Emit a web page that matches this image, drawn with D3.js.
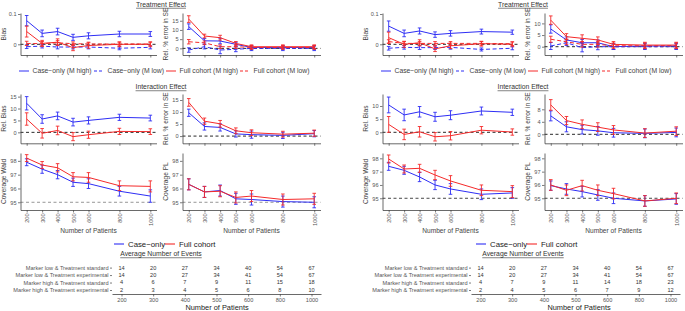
<!DOCTYPE html>
<html>
<head>
<meta charset="utf-8">
<script src="https://cdn.jsdelivr.net/npm/d3@7"></script>
<style>
body { margin: 0; background: #fff; }
svg { display: block; font-family: "Liberation Sans", Arial, sans-serif; }
</style>
</head>
<body>
<div id="chart"></div>
<script>
var patients = [200, 300, 400, 500, 600, 800, 1000];
var rowLabels = ["Marker low & Treatment standard", "Marker low & Treatment experimental",
                 "Marker high & Treatment standard", "Marker high & Treatment experimental"];

// ---- left figure ----
var f1BiasCaseHigh = [0.078, 0.036, 0.042, 0.023, 0.028, 0.034, 0.034];
var f1BiasCaseHighErr = [0.017, 0.011, 0.011, 0.01, 0.01, 0.009, 0.008];
var f1BiasCaseLow = [-0.008, -0.006, -0.009, -0.009, -0.009, -0.013, -0.010];
var f1BiasCaseLowErr = [0.006, 0.006, 0.006, 0.006, 0.006, 0.005, 0.005];
var f1BiasFullHigh = [0.042, 0.003, 0.007, -0.011, -0.004, 0.000, 0.000];
var f1BiasFullHighErr = [0.018, 0.01, 0.011, 0.01, 0.009, 0.008, 0.008];
var f1BiasFullLow = [0.003, 0.002, 0.005, 0.002, 0.001, 0.001, 0.001];
var f1BiasFullLowErr = [0.007, 0.007, 0.007, 0.006, 0.006, 0.006, 0.006];

var f1SeCaseHigh = [11.8, 4.1, 4.0, 2.2, 0.5, 0.5, 0.5];
var f1SeCaseHighErr = [1.5, 1.2, 1.5, 1.1, 1, 1, 1];
var f1SeCaseLow = [-0.9, 0.9, -0.9, -0.5, 0.0, 0.0, 0.0];
var f1SeCaseLowErr = [1.2, 1.2, 2.0, 1.3, 1.2, 1.2, 1.2];
var f1SeFullHigh = [15.9, 6.7, 5.8, 2.7, 0.9, 0.9, 0.9];
var f1SeFullHighErr = [1.8, 1.0, 1.3, 1.0, 1.0, 1.0, 1.0];
var f1SeFullLow = [3.6, 3.0, 0.9, 0.9, 0.5, 0.5, 0.5];
var f1SeFullLowErr = [1.2, 1.0, 1.0, 1.0, 1.0, 1.0, 1.0];

var f1RelBiasCase = [12.2, 5.6, 6.9, 4.3, 5.0, 6.3, 6.0];
var f1RelBiasCaseErr = [2.8, 1.8, 1.6, 1.6, 1.5, 1.3, 1.2];
var f1RelBiasFull = [5.6, -0.4, 0.8, -1.8, -1.0, 0.4, 0.3];
var f1RelBiasFullErr = [2.6, 2.0, 1.8, 1.7, 1.5, 1.3, 1.2];

var f1IntSeCase = [9.7, 4.0, 3.6, 0.9, 0.6, 0.3, 1.0];
var f1IntSeCaseErr = [1.5, 1.5, 1.5, 1.3, 1.5, 1.3, 1.3];
var f1IntSeFull = [14.0, 6.2, 5.1, 2.2, 1.4, 0.8, 1.2];
var f1IntSeFullErr = [1.6, 1.3, 1.4, 1.2, 1.2, 1.2, 1.3];

var f1WaldCase = [97.9, 97.4, 97.0, 96.45, 96.35, 95.8, 95.45];
var f1WaldCaseErr = [0.25, 0.3, 0.3, 0.3, 0.35, 0.35, 0.45];
var f1WaldFull = [98.2, 97.7, 97.5, 96.85, 96.8, 96.2, 96.15];
var f1WaldFullErr = [0.25, 0.25, 0.3, 0.3, 0.35, 0.35, 0.4];

var f1PlCase = [96.3, 95.75, 95.85, 95.25, 95.2, 95.05, 95.0];
var f1PlCaseErr = [0.4, 0.4, 0.4, 0.4, 0.4, 0.4, 0.4];
var f1PlFull = [96.3, 95.75, 95.8, 95.35, 95.45, 95.2, 95.25];
var f1PlFullErr = [0.4, 0.4, 0.4, 0.4, 0.4, 0.4, 0.4];

var f1Events = [
    [14, 20, 27, 34, 40, 54, 67],
    [14, 20, 27, 34, 41, 54, 67],
    [4, 6, 7, 9, 11, 15, 18],
    [2, 3, 4, 5, 6, 8, 10]
];

// ---- right figure ----
var f2BiasCaseHigh = [0.060, 0.036, 0.044, 0.032, 0.036, 0.042, 0.040];
var f2BiasCaseHighErr = [0.017, 0.011, 0.01, 0.009, 0.009, 0.008, 0.007];
var f2BiasCaseLow = [-0.013, -0.010, -0.011, -0.011, -0.010, -0.017, -0.013];
var f2BiasCaseLowErr = [0.006, 0.006, 0.006, 0.006, 0.006, 0.005, 0.005];
var f2BiasFullHigh = [0.022, 0.000, 0.005, -0.015, -0.005, 0.002, 0.000];
var f2BiasFullHighErr = [0.018, 0.01, 0.01, 0.009, 0.009, 0.008, 0.008];
var f2BiasFullLow = [0.009, 0.003, 0.003, 0.003, 0.003, 0.003, 0.002];
var f2BiasFullLowErr = [0.006, 0.006, 0.006, 0.006, 0.006, 0.006, 0.006];

var f2SeCaseHigh = [7.6, 2.9, 1.7, 1.7, 0.0, 0.3, 0.3];
var f2SeCaseHighErr = [1.8, 1.3, 1.4, 1.2, 1.2, 1.2, 1.2];
var f2SeCaseLow = [0.3, 1.7, -0.4, 0.0, 0.0, 0.0, 0.0];
var f2SeCaseLowErr = [1.5, 1.2, 1.8, 1.3, 1.2, 1.2, 1.2];
var f2SeFullHigh = [11.4, 4.3, 3.6, 2.9, 1.0, 0.7, 0.7];
var f2SeFullHighErr = [1.8, 1.3, 1.5, 1.3, 1.2, 1.2, 1.2];
var f2SeFullLow = [3.2, 2.1, 1.0, 1.0, 0.4, 0.4, 0.4];
var f2SeFullLowErr = [1.3, 1.2, 1.2, 1.2, 1.2, 1.2, 1.2];

var f2RelBiasCase = [10.4, 6.6, 7.8, 5.9, 6.5, 8.1, 7.6];
var f2RelBiasCaseErr = [3.0, 2.2, 2.0, 1.7, 1.7, 1.5, 1.2];
var f2RelBiasFull = [3.0, -0.8, 0.2, -1.7, -1.3, 0.8, 0.1];
var f2RelBiasFullErr = [3.0, 2.0, 2.0, 1.6, 1.6, 1.4, 1.2];

var f2IntSeCase = [5.9, 2.4, 1.5, 1.1, 0.5, 0.3, 0.6];
var f2IntSeCaseErr = [1.6, 1.6, 1.4, 1.4, 1.4, 1.4, 1.4];
var f2IntSeFull = [9.4, 4.4, 3.2, 2.3, 1.4, 0.4, 1.0];
var f2IntSeFullErr = [1.7, 1.3, 1.4, 1.4, 1.4, 1.4, 1.4];

var f2WaldCase = [97.4, 97.1, 96.6, 96.0, 95.7, 95.3, 95.4];
var f2WaldCaseErr = [0.3, 0.3, 0.35, 0.35, 0.4, 0.4, 0.4];
var f2WaldFull = [97.95, 97.2, 97.25, 96.75, 96.3, 95.6, 95.5];
var f2WaldFullErr = [0.3, 0.3, 0.3, 0.35, 0.4, 0.4, 0.45];

var f2PlCase = [95.95, 95.7, 95.5, 95.25, 95.0, 94.8, 94.95];
var f2PlCaseErr = [0.35, 0.4, 0.4, 0.4, 0.4, 0.4, 0.4];
var f2PlFull = [96.0, 95.6, 95.95, 95.6, 95.35, 94.8, 95.0];
var f2PlFullErr = [0.4, 0.4, 0.4, 0.4, 0.4, 0.4, 0.4];

var f2Events = [
    [14, 20, 27, 34, 40, 54, 67],
    [14, 20, 27, 34, 41, 54, 67],
    [4, 7, 9, 11, 14, 18, 23],
    [2, 4, 5, 6, 7, 9, 12]
];

var BLUE = "#2e2ef5";
var RED = "#f52a2a";

function init() {
    var w = 685, h = 311;
    var svg = d3.select("#chart").append("svg").attr("width", w).attr("height", h);

    var fig1 = {
        ox: 0,
        topBias: { dom: [-0.0353, 0.1033], ticks: [0, 0.1] },
        topSe: { dom: [-3.6, 19.2], ticks: [0, 5, 10, 15] },
        midBias: { dom: [-4.6, 16.1], ticks: [0, 5, 10, 15] },
        midSe: { dom: [-3.0, 17.5], ticks: [0, 5, 10, 15] },
        cov: { dom: [94.44, 98.57], ticks: [95, 96, 97, 98] },
        covRef: "#8a8a8a",
        tabRange: [112, 321],
        s: {
            bias: [[f1BiasCaseHigh, f1BiasCaseHighErr, BLUE, false], [f1BiasCaseLow, f1BiasCaseLowErr, BLUE, true],
                   [f1BiasFullHigh, f1BiasFullHighErr, RED, false], [f1BiasFullLow, f1BiasFullLowErr, RED, true]],
            se: [[f1SeCaseHigh, f1SeCaseHighErr, BLUE, false], [f1SeCaseLow, f1SeCaseLowErr, BLUE, true],
                 [f1SeFullHigh, f1SeFullHighErr, RED, false], [f1SeFullLow, f1SeFullLowErr, RED, true]],
            relBias: [[f1RelBiasCase, f1RelBiasCaseErr, BLUE, false], [f1RelBiasFull, f1RelBiasFullErr, RED, false]],
            intSe: [[f1IntSeCase, f1IntSeCaseErr, BLUE, false], [f1IntSeFull, f1IntSeFullErr, RED, false]],
            wald: [[f1WaldCase, f1WaldCaseErr, BLUE, false], [f1WaldFull, f1WaldFullErr, RED, false]],
            pl: [[f1PlCase, f1PlCaseErr, BLUE, false], [f1PlFull, f1PlFullErr, RED, false]]
        },
        events: f1Events
    };
    var fig2 = {
        ox: 362,
        topBias: { dom: [-0.0353, 0.1033], ticks: [0, 0.1] },
        topSe: { dom: [-3.56, 14.46], ticks: [0, 5, 10] },
        midBias: { dom: [-4.18, 14.56], ticks: [0, 5, 10] },
        midSe: { dom: [-2.88, 12.9], ticks: [0, 4, 8] },
        cov: { dom: [94.12, 98.4], ticks: [95, 96, 97, 98] },
        covRef: "#333",
        tabRange: [109, 318],
        s: {
            bias: [[f2BiasCaseHigh, f2BiasCaseHighErr, BLUE, false], [f2BiasCaseLow, f2BiasCaseLowErr, BLUE, true],
                   [f2BiasFullHigh, f2BiasFullHighErr, RED, false], [f2BiasFullLow, f2BiasFullLowErr, RED, true]],
            se: [[f2SeCaseHigh, f2SeCaseHighErr, BLUE, false], [f2SeCaseLow, f2SeCaseLowErr, BLUE, true],
                 [f2SeFullHigh, f2SeFullHighErr, RED, false], [f2SeFullLow, f2SeFullLowErr, RED, true]],
            relBias: [[f2RelBiasCase, f2RelBiasCaseErr, BLUE, false], [f2RelBiasFull, f2RelBiasFullErr, RED, false]],
            intSe: [[f2IntSeCase, f2IntSeCaseErr, BLUE, false], [f2IntSeFull, f2IntSeFullErr, RED, false]],
            wald: [[f2WaldCase, f2WaldCaseErr, BLUE, false], [f2WaldFull, f2WaldFullErr, RED, false]],
            pl: [[f2PlCase, f2PlCaseErr, BLUE, false], [f2PlFull, f2PlFullErr, RED, false]]
        },
        events: f2Events
    };

    drawFigure(svg, fig1);
    drawFigure(svg, fig2);
}

function label(g, x, y, txt, size, col, anchor, rotate) {
    var t = g.append("text")
        .attr("x", 0).attr("y", 0)
        .attr("dy", "0.35em")
        .attr("transform", "translate(" + x + "," + y + ")" + (rotate ? " rotate(-90)" : ""))
        .attr("text-anchor", anchor || "middle")
        .attr("font-size", size)
        .attr("fill", col || "#333")
        .text(txt);
    return t;
}

function underlined(g, x, y, txt, size) {
    var t = label(g, x, y, txt, size, "#333");
    var len = t.node().getComputedTextLength();
    g.append("line")
        .attr("x1", x - len / 2).attr("x2", x + len / 2)
        .attr("y1", y + size * 0.55).attr("y2", y + size * 0.55)
        .attr("stroke", "#333").attr("stroke-width", 0.6);
}

function panel(g, p) {
    var x = d3.scaleLinear().domain([160, 1040]).range([p.x0, p.x1]);
    var y = d3.scaleLinear().domain(p.dom).range([p.y1, p.y0]);

    g.append("line")
        .attr("x1", p.x0).attr("x2", p.x1)
        .attr("y1", y(p.ref)).attr("y2", y(p.ref))
        .attr("stroke", p.refCol).attr("stroke-width", 0.9)
        .attr("stroke-dasharray", "3,2.5");

    p.series.forEach(function(s) {
        var pts = patients.map(function(n, i) { return { n: n, v: s[0][i], e: s[1][i] }; });
        var line = d3.line()
            .x(function(d) { return x(d.n); })
            .y(function(d) { return y(d.v); });
        g.append("path")
            .datum(pts)
            .attr("d", line)
            .attr("fill", "none")
            .attr("stroke", s[2])
            .attr("stroke-width", 1)
            .attr("stroke-dasharray", s[3] ? "4,2.5" : null);

        var eb = g.append("g").attr("stroke", s[2]).attr("stroke-width", 0.9);
        eb.selectAll(".v").data(pts).enter().append("line")
            .attr("x1", function(d) { return x(d.n); })
            .attr("x2", function(d) { return x(d.n); })
            .attr("y1", function(d) { return y(d.v - d.e); })
            .attr("y2", function(d) { return y(d.v + d.e); });
        [-1, 1].forEach(function(sg) {
            eb.selectAll(".c" + (sg + 1)).data(pts).enter().append("line")
                .attr("x1", function(d) { return x(d.n) - 1.8; })
                .attr("x2", function(d) { return x(d.n) + 1.8; })
                .attr("y1", function(d) { return y(d.v + sg * d.e); })
                .attr("y2", function(d) { return y(d.v + sg * d.e); });
        });
    });

    var yAxis = d3.axisLeft(y)
        .tickValues(p.ticks)
        .tickFormat(function(d) { return d3.format("~g")(d); })
        .tickSize(2.5).tickSizeOuter(0).tickPadding(1.5);
    var xAxis = d3.axisBottom(x)
        .tickValues(patients)
        .tickSize(2.5).tickSizeOuter(0)
        .tickFormat(p.xlab ? d3.format("d") : "");

    var ya = g.append("g")
        .attr("transform", "translate(" + p.x0 + ",0)")
        .call(yAxis);
    var xa = g.append("g")
        .attr("transform", "translate(0," + p.y1 + ")")
        .call(xAxis);

    [ya, xa].forEach(function(a) {
        a.select(".domain").attr("stroke", "#444").attr("stroke-width", 0.8);
        a.selectAll(".tick line").attr("stroke", "#444").attr("stroke-width", 0.7);
        a.selectAll("text").attr("font-size", 5.6).attr("fill", "#555")
            .attr("font-family", "Liberation Sans, Arial, sans-serif");
    });

    if (p.xlab) {
        xa.selectAll(".tick text")
            .attr("transform", "rotate(-90)")
            .attr("x", -3.5).attr("y", 0)
            .attr("dy", "0.35em")
            .attr("text-anchor", "end");
        label(g, (p.x0 + p.x1) / 2, p.y1 + 21, "Number of Patients", 6.6, "#444");
    }

    label(g, p.tx, (p.y0 + p.y1) / 2, p.title, 6.6, "#444", "middle", true);
}

function drawFigure(svg, f) {
    var g = svg.append("g").attr("transform", "translate(" + f.ox + ",0)");
    var colA = [20.5, 156.5], colB = [182.5, 320.5];
    var rowT = [13, 55], rowM = [94, 143.3], rowB = [153, 210];

    underlined(g, 161, 4.5, "Treatment Effect", 6.8);
    underlined(g, 161, 87, "Interaction Effect", 6.8);

    panel(g, { x0: colA[0], x1: colA[1], y0: rowT[0], y1: rowT[1], dom: f.topBias.dom, ticks: f.topBias.ticks,
               ref: 0, refCol: "#111", series: f.s.bias, title: "Bias", tx: 4 });
    panel(g, { x0: colB[0], x1: colB[1], y0: rowT[0], y1: rowT[1], dom: f.topSe.dom, ticks: f.topSe.ticks,
               ref: 0, refCol: "#111", series: f.s.se, title: "Rel. % error in SE", tx: 166 });
    panel(g, { x0: colA[0], x1: colA[1], y0: rowM[0], y1: rowM[1], dom: f.midBias.dom, ticks: f.midBias.ticks,
               ref: 0, refCol: "#111", series: f.s.relBias, title: "Rel. Bias", tx: 4 });
    panel(g, { x0: colB[0], x1: colB[1], y0: rowM[0], y1: rowM[1], dom: f.midSe.dom, ticks: f.midSe.ticks,
               ref: 0, refCol: "#111", series: f.s.intSe, title: "Rel. % error in SE", tx: 166 });
    panel(g, { x0: colA[0], x1: colA[1], y0: rowB[0], y1: rowB[1], dom: f.cov.dom, ticks: f.cov.ticks,
               ref: 95, refCol: f.covRef, series: f.s.wald, title: "Coverage Wald", tx: 4, xlab: true });
    panel(g, { x0: colB[0], x1: colB[1], y0: rowB[0], y1: rowB[1], dom: f.cov.dom, ticks: f.cov.ticks,
               ref: 95, refCol: f.covRef, series: f.s.pl, title: "Coverage PL", tx: 166, xlab: true });

    // legend with four entries
    var leg = [
        { x: 19, col: BLUE, dash: false, txt: "Case\u2212only (M high)" },
        { x: 94, col: BLUE, dash: true, txt: "Case\u2212only (M low)" },
        { x: 166, col: RED, dash: false, txt: "Full cohort (M high)" },
        { x: 240, col: RED, dash: true, txt: "Full cohort (M low)" }
    ];
    leg.forEach(function(d) {
        g.append("line").attr("x1", d.x).attr("x2", d.x + 10).attr("y1", 71).attr("y2", 71)
            .attr("stroke", d.col).attr("stroke-width", 1)
            .attr("stroke-dasharray", d.dash ? "3,2" : null);
        label(g, d.x + 13.5, 71, d.txt, 6.8, "#444", "start");
    });

    // legend with two entries
    var leg2 = [
        { x: 114, col: BLUE, txt: "Case\u2212only" },
        { x: 165, col: RED, txt: "Full cohort" }
    ];
    leg2.forEach(function(d) {
        g.append("line").attr("x1", d.x).attr("x2", d.x + 10).attr("y1", 244).attr("y2", 244)
            .attr("stroke", d.col).attr("stroke-width", 1.1);
        label(g, d.x + 14, 244, d.txt, 7.8, "#222", "start");
    });

    underlined(g, 161, 254, "Average Number of Events", 6.8);

    // table of events
    var tx = d3.scalePoint().domain(patients).range(f.tabRange).padding(0.3);
    var ty = d3.scalePoint().domain(rowLabels).range([267.6, 290]);

    var yAxisT = d3.axisLeft(ty).tickSize(2).tickSizeOuter(0).tickPadding(1.5);
    var xAxisT = d3.axisBottom(tx).tickSize(2.5).tickSizeOuter(0).tickPadding(2);
    var ta = g.append("g").attr("transform", "translate(" + f.tabRange[0] + ",0)").call(yAxisT);
    ta.select(".domain").remove();
    var tb = g.append("g").attr("transform", "translate(0,294)").call(xAxisT);
    [ta, tb].forEach(function(a) {
        a.select(".domain").attr("stroke", "#444").attr("stroke-width", 0.8);
        a.selectAll(".tick line").attr("stroke", "#444").attr("stroke-width", 0.7);
        a.selectAll("text").attr("font-size", 5.6).attr("fill", "#555")
            .attr("font-family", "Liberation Sans, Arial, sans-serif");
    });

    f.events.forEach(function(row, r) {
        g.selectAll(null).data(row).enter().append("text")
            .attr("x", function(d, i) { return tx(patients[i]); })
            .attr("y", ty(rowLabels[r]))
            .attr("dy", "0.35em")
            .attr("text-anchor", "middle")
            .attr("font-size", 5.6)
            .attr("fill", "#333")
            .text(function(d) { return d; });
    });

    label(g, 217, 307.5, "Number of Patients", 7.4, "#222");
}

init();
</script>
</body>
</html>
